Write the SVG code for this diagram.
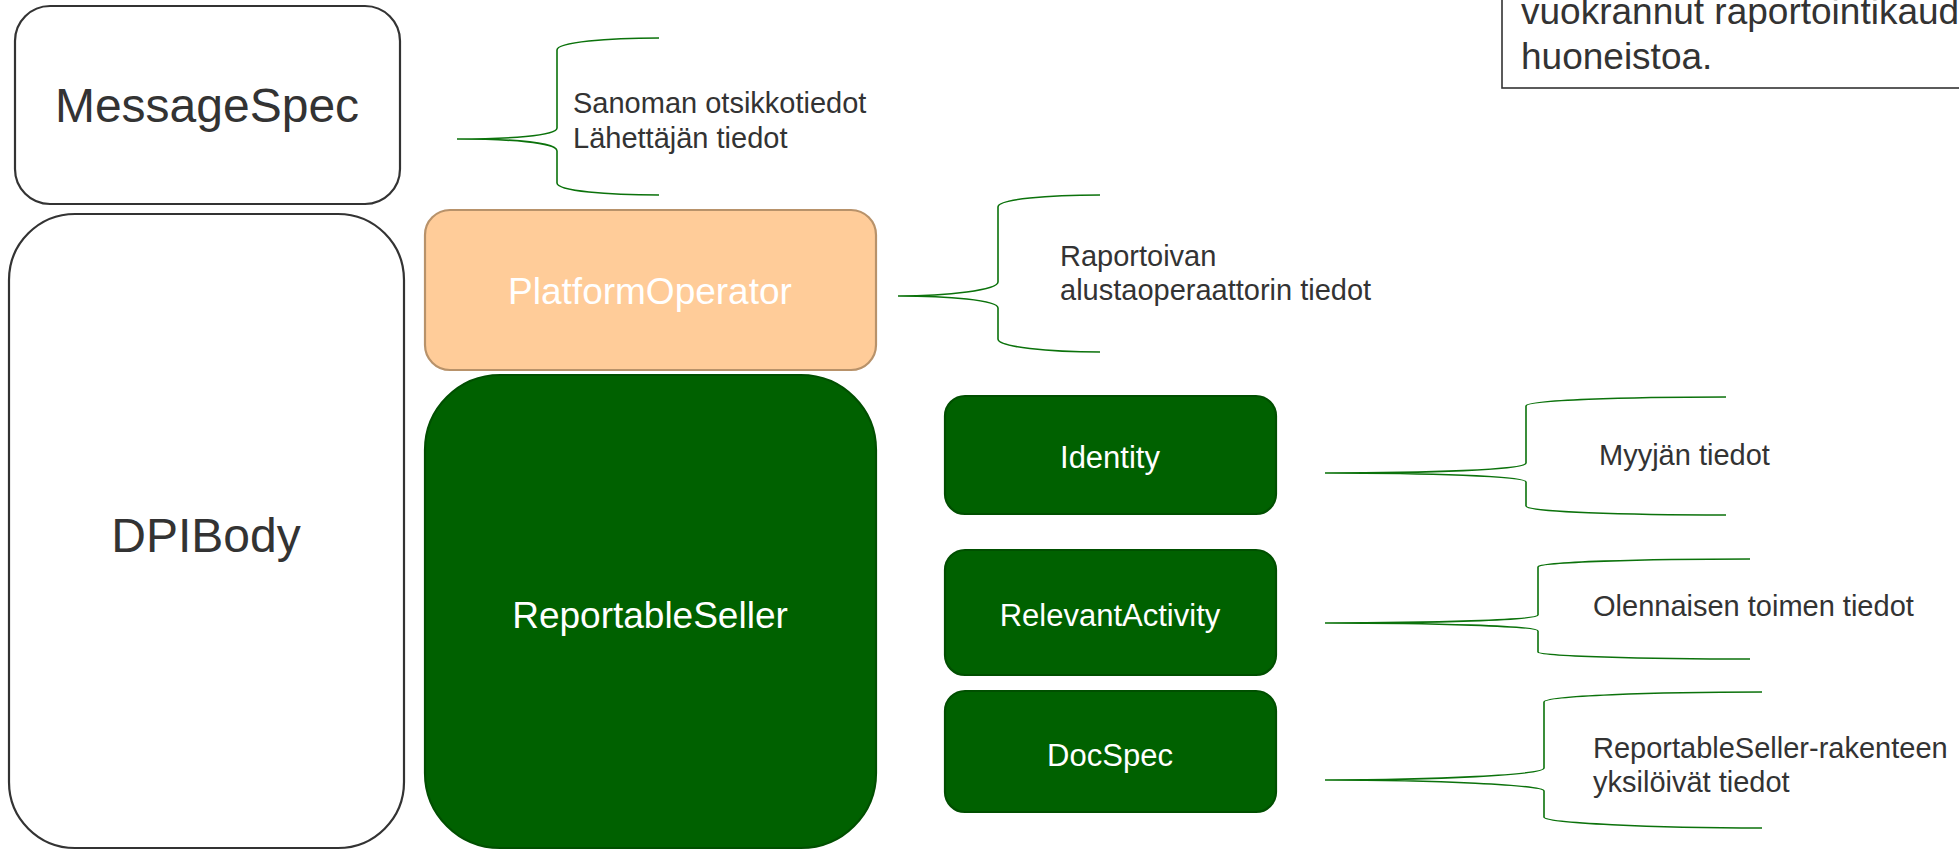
<svg xmlns="http://www.w3.org/2000/svg" width="1959" height="850" viewBox="0 0 1959 850">
<style>
  .box { fill: #ffffff; stroke: #333333; stroke-width: 2.2; }
  .orange { fill: #FFCC99; stroke: #B8926A; stroke-width: 2.2; }
  .green { fill: #006100; stroke: #004F00; stroke-width: 2.2; }
  .big { font-family: "Liberation Sans", Arial, sans-serif; font-size: 48px; fill: #333333; text-anchor: middle; }
  .wlbl { font-family: "Liberation Sans", Arial, sans-serif; font-size: 37px; fill: #ffffff; text-anchor: middle; }
  .slbl { font-family: "Liberation Sans", Arial, sans-serif; font-size: 31px; fill: #ffffff; text-anchor: middle; }
  .note { font-family: "Liberation Sans", Arial, sans-serif; font-size: 29px; fill: #333333; }
  .note2 { font-family: "Liberation Sans", Arial, sans-serif; font-size: 37px; fill: #333333; }
  .brace { fill: none; stroke: #0B720B; stroke-width: 1.6; }
</style>
<rect width="1959" height="850" fill="#ffffff"/>

<g id="note-top-right">
  <rect x="1502" y="-200" width="600" height="288" fill="#ffffff" stroke="#333333" stroke-width="1.6"/>
  <text class="note2" x="1521" y="24">vuokrannut raportointikaud</text>
  <text class="note2" x="1521" y="69">huoneistoa.</text>
</g>

<g id="MessageSpec">
  <rect class="box" x="15" y="6" width="385" height="198" rx="35" ry="35"/>
  <text class="big" x="207" y="122">MessageSpec</text>
</g>

<g id="DPIBody">
  <rect class="box" x="9" y="214" width="395" height="634" rx="66" ry="66"/>
  <text class="big" x="206" y="552">DPIBody</text>
</g>

<g id="PlatformOperator">
  <rect class="orange" x="425" y="210" width="451" height="160" rx="25" ry="25"/>
  <text class="wlbl" x="650" y="304">PlatformOperator</text>
</g>

<g id="ReportableSeller">
  <rect class="green" x="425" y="375" width="451" height="473" rx="75" ry="75"/>
  <text class="wlbl" x="650" y="628">ReportableSeller</text>
</g>

<g id="Identity">
  <rect class="green" x="945" y="396" width="331" height="118" rx="20" ry="20"/>
  <text class="slbl" x="1110" y="468">Identity</text>
</g>

<g id="RelevantActivity">
  <rect class="green" x="945" y="550" width="331" height="125" rx="20" ry="20"/>
  <text class="slbl" x="1110" y="626">RelevantActivity</text>
</g>

<g id="DocSpec">
  <rect class="green" x="945" y="691" width="331" height="121" rx="20" ry="20"/>
  <text class="slbl" x="1110" y="766">DocSpec</text>
</g>

<g id="connectors">
  <path class="brace" d="M659,38 C608,38 557,42 557,50 L557,128 C557,136 507,139 457,139 C507,139 557,142 557,151 L557,183 C557,191 608,195 659,195"/>
  <path class="brace" d="M1100,195 C1049,195 998,199 998,207 L998,282 C998,290 948,296 898,296 C948,296 998,300 998,308 L998,339 C998,347 1049,352 1100,352"/>
  <path class="brace" d="M1726,397 C1626,397 1526,400 1526,406 L1526,463 C1526,470 1425,473 1325,473 C1425,473 1526,476 1526,482 L1526,506 C1526,512 1626,515 1726,515"/>
  <path class="brace" d="M1750,559 C1644,559 1538,562 1538,567 L1538,615 C1538,620 1431,623 1325,623 C1431,623 1538,626 1538,631 L1538,652 C1538,656 1644,659 1750,659"/>
  <path class="brace" d="M1762,692 C1653,692 1544,696 1544,702 L1544,768 C1544,775 1434,780 1325,780 C1434,780 1544,785 1544,791 L1544,817 C1544,823 1653,828 1762,828"/>
</g>

<g id="label-messagespec">
  <text class="note" x="573" y="113">Sanoman otsikkotiedot</text>
  <text class="note" x="573" y="148">Lähettäjän tiedot</text>
</g>
<g id="label-platformoperator">
  <text class="note" x="1060" y="266">Raportoivan</text>
  <text class="note" x="1060" y="300">alustaoperaattorin tiedot</text>
</g>
<g id="label-identity">
  <text class="note" x="1599" y="465">Myyjän tiedot</text>
</g>
<g id="label-relevantactivity">
  <text class="note" x="1593" y="616">Olennaisen toimen tiedot</text>
</g>
<g id="label-docspec">
  <text class="note" x="1593" y="758">ReportableSeller-rakenteen</text>
  <text class="note" x="1593" y="792">yksilöivät tiedot</text>
</g>
</svg>
